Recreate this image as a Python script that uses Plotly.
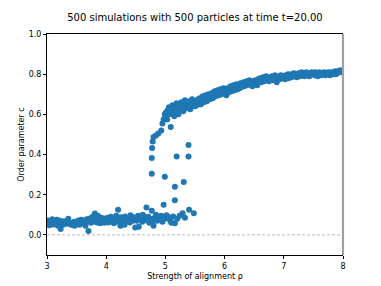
import plotly.graph_objects as go

# ---- data ----
rho_low = [3.01,3.02,3.04,3.05,3.07,3.09,3.10,3.12,3.13,3.15,
           3.17,3.18,3.20,3.22,3.23,3.25,3.27,3.29,3.31,3.33,
           3.36,3.38,3.40,3.42,3.44,3.46,3.47,3.49,
           3.51,3.53,3.55,3.56,3.58,3.60,3.62,3.63,3.65,3.67,
           3.69,3.70,3.72,3.74,3.76,3.77,3.79,3.81,3.83,3.85,
           3.86,3.88,3.90,3.92,3.94,3.95,3.97,3.99,
           4.01,4.03,4.04,4.06,4.08,4.10,4.11,4.13,4.15,4.17,
           4.18,4.20,4.22,4.24,4.25,4.27,4.29,4.31,4.32,4.34,
           4.36,4.38,4.40,4.41,4.43,4.45,4.47,4.49,
           4.50,4.52,4.54,4.55,4.57,4.59,4.61,4.62,4.64,4.66,
           4.68,4.70,4.71,4.73,4.75,4.77,4.79,
           4.80,4.82,4.84,4.86,4.88,4.90,4.93,4.95,4.97,5.00,
           5.02,5.05,5.08,5.10,5.13,5.16,5.20,5.24,5.29,5.33,5.40,5.48]
c_low = [0.055,0.072,0.048,0.065,0.060,0.078,0.052,0.068,0.058,0.062,
         0.075,0.045,0.066,0.070,0.030,0.058,0.050,0.068,0.062,0.055,
         0.080,0.060,0.052,0.058,0.048,0.065,0.045,0.056,
         0.060,0.072,0.050,0.066,0.075,0.058,0.070,0.062,0.045,0.078,
         0.068,0.020,0.082,0.060,0.074,0.090,0.066,0.107,0.080,0.062,
         0.095,0.072,0.058,0.085,0.068,0.076,0.060,0.082,
         0.070,0.085,0.062,0.078,0.090,0.068,0.074,0.058,0.082,0.095,
         0.066,0.125,0.078,0.045,0.088,0.072,0.080,0.050,0.092,0.075,
         0.068,0.085,0.062,0.098,0.078,0.070,0.088,0.037,
         0.082,0.070,0.095,0.040,0.078,0.088,0.065,0.100,0.075,0.085,
         0.137,0.070,0.090,0.060,0.080,0.120,0.072,
         0.045,0.085,0.100,0.070,0.090,0.078,0.095,0.065,0.150,0.082,
         0.098,0.088,0.072,0.060,0.092,0.058,0.080,0.095,0.108,0.085,0.125,0.108]

rho_mid = [4.77,4.99,5.16,5.31,5.16,4.77,4.775,4.785,5.19,5.39,5.39,5.09,
           4.80,4.84,4.88,4.93,4.95,4.97,4.99]
c_mid = [0.305,0.290,0.240,0.263,0.173,0.383,0.433,0.465,0.390,0.390,0.447,0.537,
         0.487,0.495,0.505,0.520,0.555,0.575,0.600]

rho_high = [5.00,5.01,5.03,5.04,5.05,5.06,5.08,5.10,5.11,5.12,5.14,5.15,5.17,5.18,5.19,
            5.21,5.22,5.24,5.25,5.27,5.28,5.30,5.32,5.33,5.35,5.36,5.38,5.40,5.42,5.43,
            5.45,5.47,5.48,5.50,
            5.52,5.53,5.55,5.57,5.58,5.60,5.62,5.63,5.65,5.67,5.68,5.70,5.72,5.73,5.75,
            5.77,5.78,5.80,5.82,5.83,5.85,5.87,5.88,5.90,5.92,5.93,5.95,5.97,5.98,
            6.00,6.02,6.03,6.05,6.07,6.08,6.10,6.12,6.13,6.15,6.17,6.18,6.20,6.22,6.23,
            6.25,6.27,6.28,6.30,6.32,6.33,6.35,6.37,6.38,6.40,6.42,6.43,6.45,6.47,6.48,
            6.50,6.52,6.53,6.55,6.57,6.58,6.60,6.62,6.63,6.65,6.67,6.68,6.70,6.72,6.73,
            6.75,6.77,6.78,6.80,6.82,6.83,6.85,6.87,6.88,6.90,6.92,6.93,6.95,6.97,6.98,
            7.00,7.02,7.03,7.05,7.07,7.08,7.10,7.12,7.13,7.15,7.17,7.18,7.20,7.22,7.23,
            7.25,7.27,7.28,7.30,7.32,7.33,7.35,7.37,7.38,7.40,7.42,7.43,7.45,7.47,7.48,
            7.50,7.52,7.53,7.55,7.57,7.58,7.60,7.62,7.63,7.65,7.67,7.68,7.70,7.72,7.73,
            7.75,7.77,7.78,7.80,7.82,7.83,7.85,7.87,7.88,7.90,7.92,7.93,7.95,7.97,7.98]
c_high = [0.590,0.610,0.575,0.620,0.600,0.635,0.610,0.625,0.600,0.645,0.620,0.590,0.640,0.610,0.655,
          0.630,0.600,0.645,0.625,0.660,0.635,0.615,0.650,0.670,0.630,0.655,0.640,0.665,0.625,0.650,
          0.675,0.645,0.660,0.640,
          0.665,0.645,0.675,0.655,0.680,0.650,0.670,0.690,0.660,0.680,0.695,0.665,0.685,0.700,0.675,
          0.690,0.705,0.680,0.700,0.715,0.690,0.705,0.720,0.695,0.710,0.725,0.700,0.715,0.730,
          0.705,0.720,0.695,0.730,0.710,0.725,0.740,0.715,0.730,0.745,0.720,0.735,0.750,0.725,0.740,
          0.730,0.755,0.735,0.745,0.760,0.740,0.750,0.765,0.745,0.755,0.770,0.750,0.760,0.740,0.765,
          0.755,0.770,0.760,0.745,0.775,0.765,0.780,0.760,0.770,0.785,0.765,0.775,0.790,0.770,0.780,
          0.765,0.785,0.775,0.790,0.780,0.770,0.795,0.780,0.760,0.785,0.790,0.775,0.795,0.785,0.780,
          0.790,0.775,0.795,0.785,0.800,0.780,0.790,0.800,0.785,0.795,0.805,0.790,0.800,0.785,0.795,
          0.805,0.790,0.800,0.810,0.795,0.800,0.790,0.805,0.810,0.795,0.800,0.790,0.805,0.810,0.800,
          0.805,0.795,0.810,0.800,0.790,0.805,0.810,0.800,0.795,0.805,0.800,0.810,0.795,0.805,0.800,
          0.810,0.800,0.795,0.810,0.805,0.800,0.810,0.815,0.800,0.805,0.815,0.810,0.820,0.810,0.815]

x_ticks = [3, 4, 5, 6, 7, 8]
y_ticks = [0.0, 0.2, 0.4, 0.6, 0.8, 1.0]
y_tick_labels = ["0.0", "0.2", "0.4", "0.6", "0.8", "1.0"]

rho = rho_low + rho_mid + rho_high
c = c_low + c_mid + c_high

FONT = "DejaVu Sans"
W, H = 381, 286

fig = go.Figure()
fig.add_trace(go.Scatter(
    x=rho, y=c, mode="markers",
    marker=dict(color="#1f77b4", size=6, line=dict(width=0)),
    hoverinfo="skip", showlegend=False, cliponaxis=True))

fig.add_shape(type="line", xref="paper", yref="y", x0=0, x1=1, y0=0, y1=0,
              line=dict(color="#999999", width=0.7, dash="3px,2px"), layer="below")
fig.add_shape(type="line", xref="paper", yref="paper", x0=1, x1=1, y0=0, y1=1,
              line=dict(color="#a0a0a0", width=2.2), layer="above")

fig.update_layout(
    width=W, height=H,
    margin=dict(l=47, r=38, t=34, b=31, autoexpand=False),
    paper_bgcolor="white", plot_bgcolor="white",
    font=dict(family=FONT, size=8, color="black"),
    title=dict(text="500 simulations with 500 particles at time t=20.00",
               font=dict(family=FONT, size=10, color="black"),
               x=0.5, xref="paper", xanchor="center",
               y=1 - 17 / H, yref="container", yanchor="middle"),
    xaxis=dict(range=[3, 8], tickvals=x_ticks, ticks="outside", ticklen=3,
               tickcolor="black", showline=True, linecolor="black", linewidth=1,
               mirror=True, showgrid=False, zeroline=False, automargin=False,
               tickfont=dict(size=8),
               title=dict(text="Strength of alignment ρ", font=dict(size=8), standoff=3)),
    yaxis=dict(range=[-0.1, 1.0], tickvals=y_ticks, ticktext=y_tick_labels,
               ticks="outside", ticklen=3, tickcolor="black",
               showline=True, linecolor="black", linewidth=1, automargin=False,
               showgrid=False, zeroline=False, tickfont=dict(size=8),
               title=dict(text="Order parameter c", font=dict(size=8), standoff=2)),
)

fig.write_html("out.html",
               config={"displayModeBar": False, "staticPlot": True},
               post_script="document.body.style.margin='0';document.body.style.overflow='hidden';")
